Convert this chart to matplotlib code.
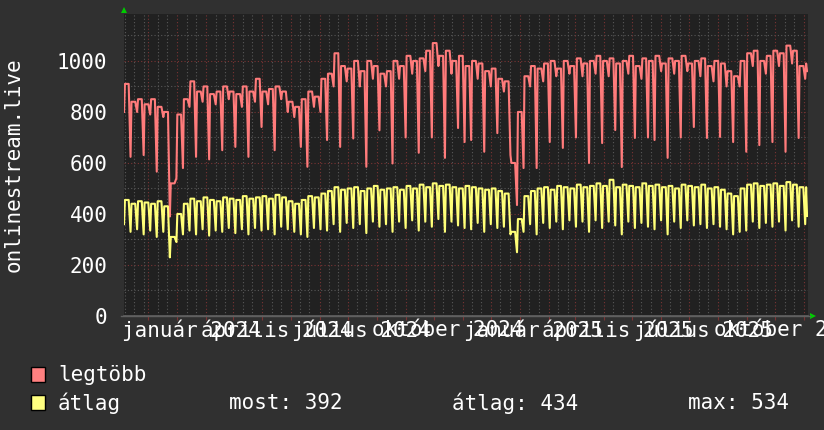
import matplotlib
matplotlib.use('Agg')
import matplotlib.pyplot as plt
from matplotlib.patches import Rectangle
from matplotlib.transforms import blended_transform_factory
import pandas as pd

kezdet, veg = '2023-11-05', '2025-11-05'

# heti szintek: hetkoznap (hetfo-pentek) es hetvege, 2023-11-06-tol
legtobb_hk = [910, 840, 850, 830, 850, 820, 800, 520, 790, 850,
              920, 880, 900, 870, 880, 900, 880, 870, 900, 880,
              930, 880, 890, 900, 880, 840, 820, 850, 880, 860,
              930, 950, 1030, 980, 970, 1000, 960, 1000, 980, 950,
              960, 1000, 980, 1020, 1000, 1010, 1040, 1070, 1020, 1040,
              1000, 1020, 980, 1000, 990, 960, 970, 930, 920, 600,
              800, 940, 980, 970, 990, 1000, 970, 1000, 980, 1010,
              990, 1000, 1020, 1000, 1010, 990, 1000, 1020, 980, 1010,
              1000, 1020, 990, 1010, 1000, 1020, 990, 1000, 1010, 980,
              1000, 990, 960, 940, 1000, 1030, 1040, 1000, 1020, 1040,
              1030, 1060, 1040, 980]
legtobb_hv = [624, 800, 631, 790, 566, 780, 390, 540, 580, 820,
              624, 840, 614, 830, 650, 850, 663, 820, 624, 840,
              741, 830, 650, 850, 800, 780, 663, 585, 820, 800,
              690, 900, 663, 920, 696, 900, 585, 930, 728, 900,
              598, 930, 700, 950, 640, 960, 700, 980, 620, 950,
              737, 682, 690, 930, 644, 900, 717, 880, 631, 435,
              580, 900, 580, 920, 682, 940, 659, 950, 700, 940,
              600, 950, 678, 940, 729, 584, 950, 698, 930, 700,
              690, 960, 620, 950, 700, 960, 741, 940, 698, 920,
              702, 900, 682, 900, 644, 980, 670, 950, 682, 980,
              644, 990, 698, 930]
atlag_hk = [455, 440, 450, 445, 440, 450, 430, 310, 400, 440,
            460, 450, 465, 455, 450, 465, 460, 455, 470, 460,
            465, 470, 460, 475, 465, 450, 440, 455, 470, 465,
            480, 490, 505, 495, 500, 505, 490, 500, 510, 495,
            500, 505, 495, 510, 500, 515, 505, 520, 510, 515,
            505, 500, 510, 505, 500, 495, 500, 490, 480, 330,
            380, 470, 490, 500, 505, 495, 510, 505, 500, 515,
            505, 510, 520, 510, 534, 505, 515, 510, 505, 520,
            510, 515, 505, 510, 500, 515, 510, 505, 515, 500,
            505, 495, 480, 470, 500, 515, 520, 510, 515, 520,
            510, 525, 515, 505]
atlag_hv = [330, 340, 320, 335, 310, 330, 230, 290, 320, 335,
            320, 340, 315, 335, 330, 345, 325, 340, 320, 345,
            335, 340, 320, 350, 340, 330, 320, 310, 345, 340,
            335, 360, 330, 365, 345, 360, 325, 370, 350, 360,
            330, 370, 345, 375, 335, 370, 350, 380, 330, 370,
            355, 345, 340, 365, 330, 360, 345, 350, 320, 250,
            330, 360, 320, 365, 345, 370, 340, 375, 350, 370,
            330, 375, 345, 370, 355, 320, 370, 345, 365, 350,
            340, 375, 320, 370, 345, 375, 355, 360, 345, 360,
            350, 340, 320, 330, 335, 370, 345, 365, 350, 370,
            335, 375, 350, 360]

# elso nap es az utolso napok
legtobb_eleje, atlag_eleje = 800, 360
vege_napok = ['2025-11-03', '2025-11-04', '2025-11-05']
legtobb_vege = [990, 960, 960]
atlag_vege = [505, 392, 392]

cimkek = ['január 2024', 'április 2024', 'július 2024', 'október 2024',
          'január 2025', 'április 2025', 'július 2025', 'október 2025']
cimke_napok = ['2024-01-16', '2024-04-16', '2024-07-16', '2024-10-16',
               '2025-01-16', '2025-04-16', '2025-07-16', '2025-10-16']

# hetfo es pentek a hetkoznapi szint, vasarnap a hetvegi
hetfok = pd.date_range('2023-11-06', periods=len(legtobb_hk), freq='7D')
t = [pd.Timestamp(kezdet)]
leg = [legtobb_eleje]
atl = [atlag_eleje]
for i, h in enumerate(hetfok):
    t += [h, h + pd.Timedelta(days=4), h + pd.Timedelta(days=6)]
    leg += [legtobb_hk[i], legtobb_hk[i], legtobb_hv[i]]
    atl += [atlag_hk[i], atlag_hk[i], atlag_hv[i]]
t += list(pd.to_datetime(vege_napok))
leg += legtobb_vege
atl += atlag_vege

HATTER = '#303030'
VASZON = '#212121'
SZURKE = '#585858'
PIROS = '#7a3434'
FEHER = '#ffffff'
FS = 15

plt.rcParams['font.family'] = 'DejaVu Sans Mono'
fig = plt.figure(figsize=(8.24, 4.30), dpi=100, facecolor=HATTER)
ax = fig.add_axes([124/824, 114/430, 684/824, 302/430], facecolor=VASZON)

ax.plot(t, leg, color='#ff7b7b', lw=1.5, zorder=3)
ax.plot(t, atl, color='#ffff78', lw=1.5, zorder=4)

ax.set_xlim(pd.Timestamp(kezdet), pd.Timestamp(veg))
ax.set_ylim(0, 1184)

# racs
dots = (0, (1, 2))
for v in range(100, 1200, 100):
    ax.axhline(v, color=PIROS if v % 200 == 0 else SZURKE, lw=0.8, ls=dots, zorder=1)
honapok = pd.date_range('2023-12-01', '2025-11-01', freq='MS')
for m in honapok:
    ax.axvline(m, color=PIROS, lw=0.8, ls=dots, zorder=1)
    for d in (10, 20):
        nap = m + pd.Timedelta(days=d)
        if nap < pd.Timestamp(veg):
            ax.axvline(nap, color=SZURKE, lw=0.8, ls=dots, zorder=1)
for d in (5, 15, 25):
    nap = pd.Timestamp('2023-11-01') + pd.Timedelta(days=d)
    if nap > pd.Timestamp(kezdet):
        ax.axvline(nap, color=SZURKE, lw=0.8, ls=dots, zorder=1)

ax.set_yticks(range(0, 1001, 200))
ax.tick_params(axis='y', length=0, pad=12, labelsize=FS, labelcolor=FEHER)
ax.set_xticks(honapok)
ax.tick_params(axis='x', length=3, color=PIROS, labelbottom=False)
for s in ('top', 'right', 'left'):
    ax.spines[s].set_visible(False)
ax.spines['bottom'].set_color('#606060')
ax.spines['bottom'].set_linewidth(1.2)

tr = blended_transform_factory(ax.transData, ax.transAxes)
for c, d in zip(cimkek, cimke_napok):
    ax.text(pd.Timestamp(d), -0.047, c, transform=tr, ha='center', va='center',
            fontsize=FS, color=FEHER, clip_on=False)

# tengely nyilak es jelmagyarazat pixelkoordinatakban
ov = fig.add_axes([0, 0, 1, 1])
ov.set_xlim(0, 824)
ov.set_ylim(430, 0)
ov.axis('off')
ov.plot([124], [10], marker='^', color='#00cc00', ms=5, mew=0)
ov.plot([813], [316], marker='>', color='#00cc00', ms=5, mew=0)
ov.plot([121, 810], [316, 316], color='#606060', lw=1)

ov.text(14, 165, 'onlinestream.live', rotation=90, ha='center', va='center',
        fontsize=FS, color=FEHER)

ov.add_patch(Rectangle((31, 367), 14, 15, facecolor='#ff8080', edgecolor='black', lw=1))
ov.add_patch(Rectangle((31, 395), 14, 15, facecolor='#ffff80', edgecolor='black', lw=1))
ov.text(58, 375, 'legtöbb', fontsize=FS, color=FEHER, va='center')
ov.text(58, 403, 'átlag', fontsize=FS, color=FEHER, va='center')
ov.text(229, 403, 'most: 392', fontsize=FS, color=FEHER, va='center')
ov.text(452, 403, 'átlag: 434', fontsize=FS, color=FEHER, va='center')
ov.text(688, 403, 'max: 534', fontsize=FS, color=FEHER, va='center')

fig.savefig('out.png', dpi=100, facecolor=HATTER)
